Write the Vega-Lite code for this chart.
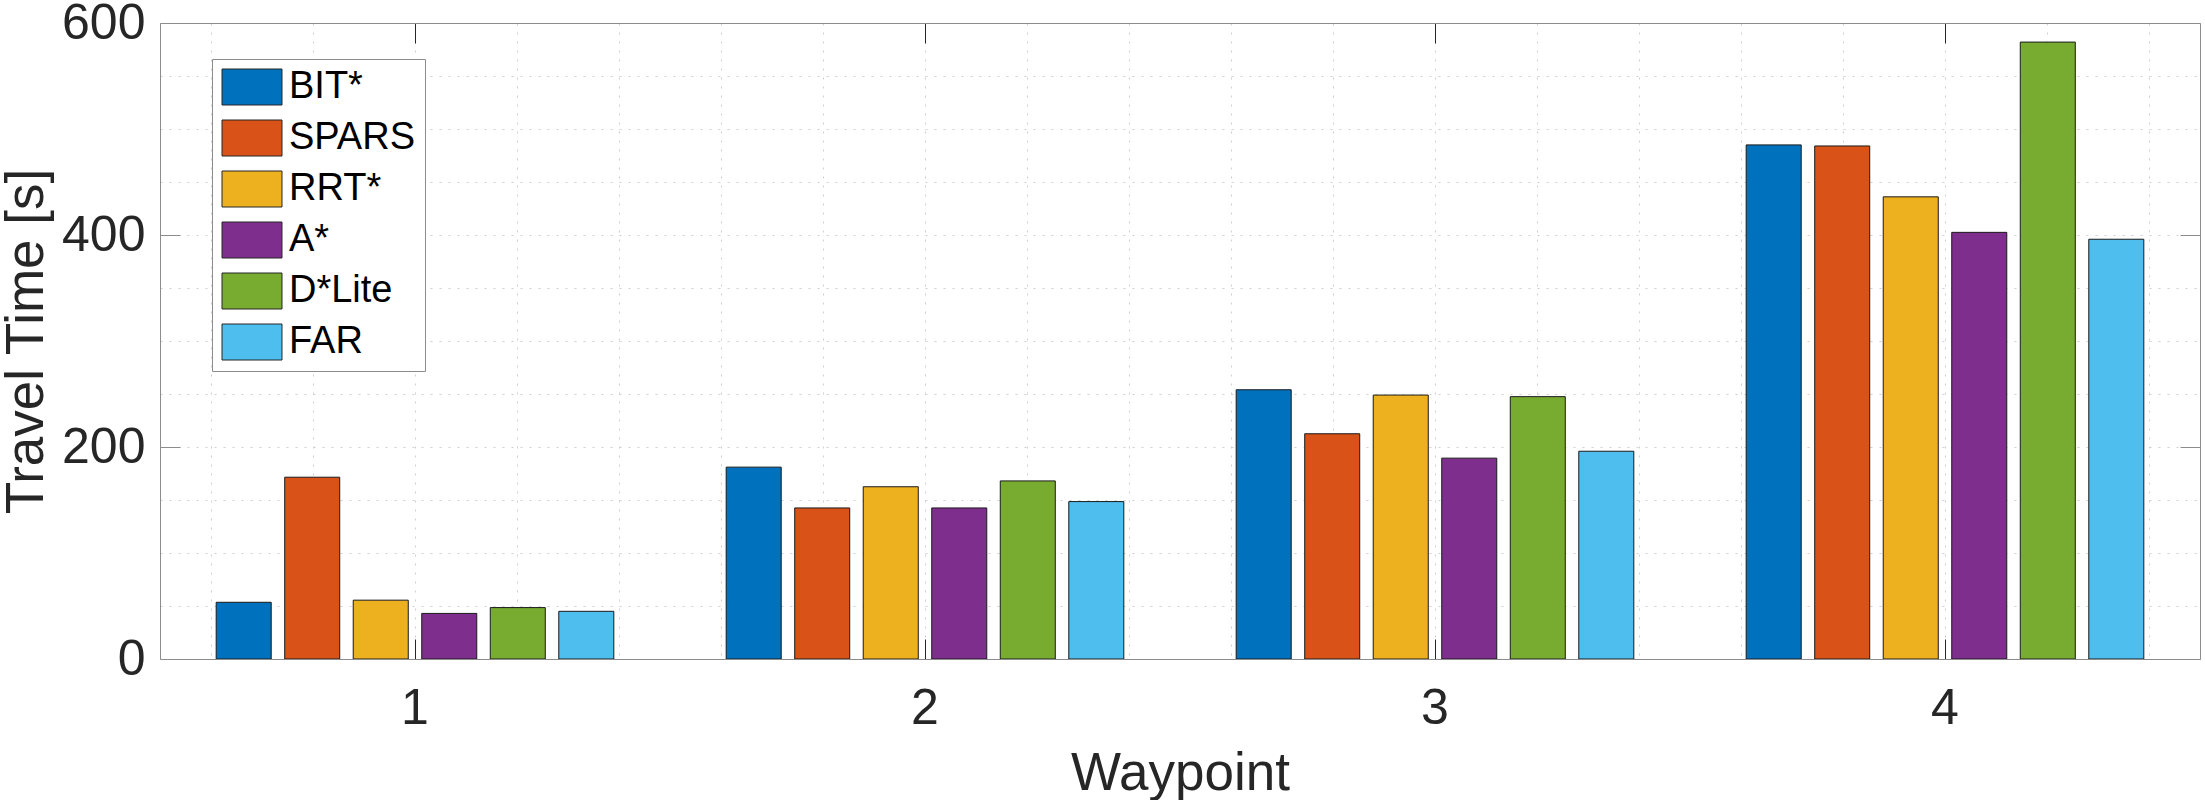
{
  "$schema": "https://vega.github.io/schema/vega-lite/v6.json",
  "width": 2040,
  "height": 636,
  "autosize": {"type": "none"},
  "padding": {"left": 160, "top": 23, "right": 5, "bottom": 141},
  "data": {
    "values": [
      {"waypoint": 1, "method": "BIT*", "time": 53.5},
      {"waypoint": 1, "method": "SPARS", "time": 171.5},
      {"waypoint": 1, "method": "RRT*", "time": 55.5},
      {"waypoint": 1, "method": "A*", "time": 43},
      {"waypoint": 1, "method": "D*Lite", "time": 48.5},
      {"waypoint": 1, "method": "FAR", "time": 45},
      {"waypoint": 2, "method": "BIT*", "time": 181},
      {"waypoint": 2, "method": "SPARS", "time": 142.5},
      {"waypoint": 2, "method": "RRT*", "time": 162.5},
      {"waypoint": 2, "method": "A*", "time": 142.5},
      {"waypoint": 2, "method": "D*Lite", "time": 168},
      {"waypoint": 2, "method": "FAR", "time": 148.5},
      {"waypoint": 3, "method": "BIT*", "time": 254},
      {"waypoint": 3, "method": "SPARS", "time": 212.5},
      {"waypoint": 3, "method": "RRT*", "time": 249},
      {"waypoint": 3, "method": "A*", "time": 189.5},
      {"waypoint": 3, "method": "D*Lite", "time": 247.5},
      {"waypoint": 3, "method": "FAR", "time": 196},
      {"waypoint": 4, "method": "BIT*", "time": 485},
      {"waypoint": 4, "method": "SPARS", "time": 484},
      {"waypoint": 4, "method": "RRT*", "time": 436},
      {"waypoint": 4, "method": "A*", "time": 402.5},
      {"waypoint": 4, "method": "D*Lite", "time": 582},
      {"waypoint": 4, "method": "FAR", "time": 396}
    ]
  },
  "layer": [
    {
      "mark": {"type": "point", "opacity": 0},
      "encoding": {
        "x": {
          "field": "waypoint",
          "type": "quantitative",
          "scale": {"domain": [0.5, 4.5], "nice": false, "zero": false},
          "axis": {
            "orient": "bottom",
            "values": [0.6, 0.8, 1, 1.2, 1.4, 1.6, 1.8, 2, 2.2, 2.4, 2.6, 2.8, 3, 3.2, 3.4, 3.6, 3.8, 4, 4.2, 4.4],
            "grid": true,
            "gridDash": [2, 7],
            "gridColor": "#cfcfcf",
            "gridWidth": 1,
            "labels": false,
            "ticks": false,
            "domain": false,
            "title": null
          }
        },
        "y": {
          "field": "time",
          "type": "quantitative",
          "scale": {"domain": [0, 600], "nice": false},
          "axis": {
            "orient": "left",
            "values": [50, 100, 150, 200, 250, 300, 350, 400, 450, 500, 550],
            "grid": true,
            "gridDash": [2, 7],
            "gridColor": "#cfcfcf",
            "gridWidth": 1,
            "labels": false,
            "ticks": false,
            "domain": false,
            "title": null
          }
        }
      }
    },
    {
      "mark": {"type": "bar", "stroke": "#1a1a1a", "strokeWidth": 1},
      "encoding": {
        "x": {
          "field": "waypoint",
          "type": "ordinal",
          "scale": {"paddingInner": 0, "paddingOuter": 0},
          "axis": {
            "orient": "bottom",
            "labelAngle": 0,
            "grid": false,
            "domain": true,
            "domainColor": "#8c8c8c",
            "tickSize": -20,
            "tickColor": "#262626",
            "labelPadding": 44,
            "title": "Waypoint",
            "titlePadding": 14,
            "zindex": 1
          }
        },
        "xOffset": {
          "field": "method",
          "type": "nominal",
          "sort": ["BIT*", "SPARS", "RRT*", "A*", "D*Lite", "FAR"],
          "scale": {"paddingInner": 0.197, "paddingOuter": 0.82}
        },
        "y": {
          "field": "time",
          "type": "quantitative",
          "scale": {"domain": [0, 600], "nice": false},
          "axis": {
            "orient": "left",
            "values": [0, 200, 400, 600],
            "grid": false,
            "domain": true,
            "domainColor": "#8c8c8c",
            "tickSize": -20,
            "tickColor": "#8c8c8c",
            "labelPadding": 35,
            "title": "Travel Time [s]",
            "titlePadding": 8,
            "zindex": 1
          }
        },
        "color": {
          "field": "method",
          "type": "nominal",
          "scale": {
            "domain": ["BIT*", "SPARS", "RRT*", "A*", "D*Lite", "FAR"],
            "range": ["#0072BD", "#D95319", "#EDB120", "#7E2F8E", "#77AC30", "#4DBEEE"]
          },
          "legend": {
            "orient": "none",
            "legendX": 52,
            "legendY": 36,
            "title": null,
            "symbolType": "M-1,-1H2.333V1H-1Z",
            "symbolSize": 1296,
            "symbolStrokeColor": "#262626",
            "symbolStrokeWidth": 1,
            "symbolOpacity": 1,
            "labelFont": "Liberation Sans",
            "labelFontSize": 38,
            "labelColor": "#000000",
            "labelOffset": 30,
            "rowPadding": 11,
            "padding": 9,
            "strokeColor": "#8c8c8c",
            "fillColor": "#ffffff"
          }
        }
      }
    },
    {
      "mark": {"type": "point", "opacity": 0},
      "encoding": {
        "x": {
          "field": "waypoint",
          "type": "quantitative",
          "scale": {"domain": [0.5, 4.5], "nice": false, "zero": false},
          "axis": {
            "orient": "top",
            "values": [1, 2, 3, 4],
            "grid": false,
            "labels": false,
            "domain": true,
            "domainColor": "#8c8c8c",
            "tickSize": -20,
            "tickColor": "#262626",
            "title": null,
            "zindex": 1
          }
        },
        "y": {
          "field": "time",
          "type": "quantitative",
          "scale": {"domain": [0, 600], "nice": false},
          "axis": {
            "orient": "right",
            "values": [0, 200, 400, 600],
            "grid": false,
            "labels": false,
            "domain": true,
            "domainColor": "#8c8c8c",
            "tickSize": -20,
            "tickColor": "#8c8c8c",
            "title": null,
            "zindex": 1
          }
        }
      }
    }
  ],
  "resolve": {
    "scale": {"x": "independent"},
    "axis": {"x": "independent", "y": "independent"}
  },
  "config": {
    "view": {"stroke": null},
    "axis": {
      "labelFont": "Liberation Sans",
      "labelFontSize": 50,
      "labelColor": "#262626",
      "titleFont": "Liberation Sans",
      "titleFontSize": 53,
      "titleFontWeight": "normal",
      "titleColor": "#262626",
      "tickWidth": 1,
      "domainWidth": 1
    }
  }
}
